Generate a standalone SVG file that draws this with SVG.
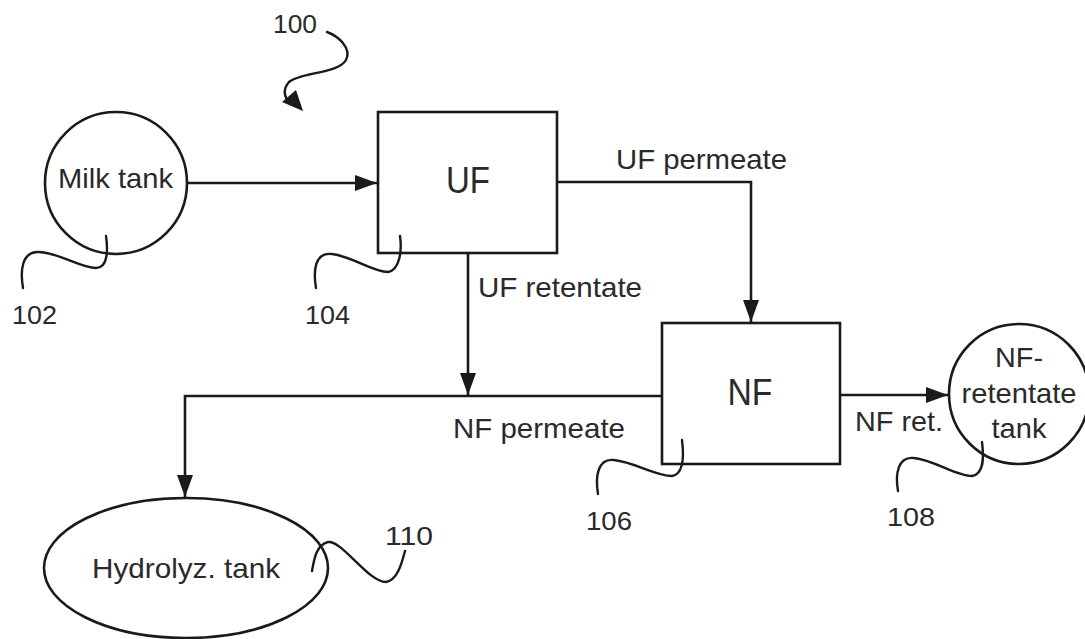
<svg xmlns="http://www.w3.org/2000/svg" width="1085" height="639" viewBox="0 0 1085 639">
<style>
.s{fill:none;stroke:#1a1a1a;stroke-width:2.6}
.n{fill:#fff;stroke:#1a1a1a;stroke-width:2.6}
.t{font-family:"Liberation Sans",Arial,sans-serif;fill:#2a2a2a}
.lbl{font-size:28px}
.big{font-size:36px}
.ref{font-size:26px}
.w{fill:none;stroke:#1a1a1a;stroke-width:2.4;stroke-linecap:round}
</style>
<defs>
<marker id="ah" markerUnits="userSpaceOnUse" markerWidth="24" markerHeight="18" refX="22" refY="8" orient="auto">
<path d="M0,0 L22,8 L0,16 z" fill="#1a1a1a"/>
</marker>
</defs>
<rect width="1085" height="639" fill="#fff"/>
<g id="connectors">
<path class="s" d="M187,183 H377" marker-end="url(#ah)"/>
<path class="s" d="M557,182 H751 V322" marker-end="url(#ah)"/>
<path class="s" d="M468,253 V395" marker-end="url(#ah)"/>
<path class="s" d="M663,396 H185 V497" marker-end="url(#ah)"/>
<path class="s" d="M840,395 H948" marker-end="url(#ah)"/>
<text class="t lbl" x="616" y="169" textLength="171" lengthAdjust="spacingAndGlyphs">UF permeate</text>
<text class="t lbl" x="478" y="297" textLength="164" lengthAdjust="spacingAndGlyphs">UF retentate</text>
<text class="t lbl" x="453" y="438" textLength="172" lengthAdjust="spacingAndGlyphs">NF permeate</text>
<text class="t lbl" x="855" y="431" textLength="88" lengthAdjust="spacingAndGlyphs">NF ret.</text>
</g>
<g id="n100">
<text class="t ref" x="273" y="33" textLength="44" lengthAdjust="spacingAndGlyphs">100</text>
<path class="w" d="M327,32 C338,36 352,48 346,60 C338,74 300,72 289,82 C282,90 285,98 290,104"/>
<path d="M282,102 L303,111 L296,90 z" fill="#1a1a1a"/>
</g>
<g id="milk">
<circle class="n" cx="116" cy="183" r="71"/>
<text class="t lbl" x="115.5" y="188" text-anchor="middle" textLength="115" lengthAdjust="spacingAndGlyphs">Milk tank</text>
<path class="w" d="M23,288 C20,270 22,252 38,252 C58,252 80,268 96,268 C108,268 108,250 106,236"/>
<text class="t ref" x="12" y="324" textLength="45" lengthAdjust="spacingAndGlyphs">102</text>
</g>
<g id="uf">
<rect class="n" x="378" y="112" width="179" height="141"/>
<text class="t big" x="468" y="193" text-anchor="middle" textLength="44" lengthAdjust="spacingAndGlyphs">UF</text>
<path class="w" d="M316,288 C313,270 315,252 332,254 C352,256 372,272 388,272 C400,270 402,250 400,236"/>
<text class="t ref" x="305" y="324" textLength="45" lengthAdjust="spacingAndGlyphs">104</text>
</g>
<g id="nf">
<rect class="n" x="662" y="323" width="178" height="141"/>
<text class="t big" x="750" y="405" text-anchor="middle" textLength="45" lengthAdjust="spacingAndGlyphs">NF</text>
<path class="w" d="M598,494 C595,476 598,458 614,460 C634,462 656,476 672,476 C684,474 684,456 682,440"/>
<text class="t ref" x="586" y="530" textLength="46" lengthAdjust="spacingAndGlyphs">106</text>
</g>
<g id="nfret">
<circle class="n" cx="1019" cy="394" r="70"/>
<text class="t lbl" x="1019" y="367" text-anchor="middle" textLength="48" lengthAdjust="spacingAndGlyphs">NF-</text>
<text class="t lbl" x="1019" y="403" text-anchor="middle" textLength="115" lengthAdjust="spacingAndGlyphs">retentate</text>
<text class="t lbl" x="1019" y="438" text-anchor="middle" textLength="55" lengthAdjust="spacingAndGlyphs">tank</text>
<path class="w" d="M898,491 C895,474 898,456 914,458 C934,460 956,476 972,476 C984,474 984,458 982,442"/>
<text class="t ref" x="887" y="526" textLength="48" lengthAdjust="spacingAndGlyphs">108</text>
</g>
<g id="hydro">
<ellipse class="n" cx="186" cy="568" rx="142" ry="70"/>
<text class="t lbl" x="186" y="578" text-anchor="middle" textLength="188" lengthAdjust="spacingAndGlyphs">Hydrolyz. tank</text>
<path class="w" d="M312,571 C314,560 316,545 328,542 C342,540 368,582 386,582 C398,580 402,562 405,551"/>
<text class="t ref" x="385" y="545" textLength="48" lengthAdjust="spacingAndGlyphs">110</text>
</g>
</svg>
